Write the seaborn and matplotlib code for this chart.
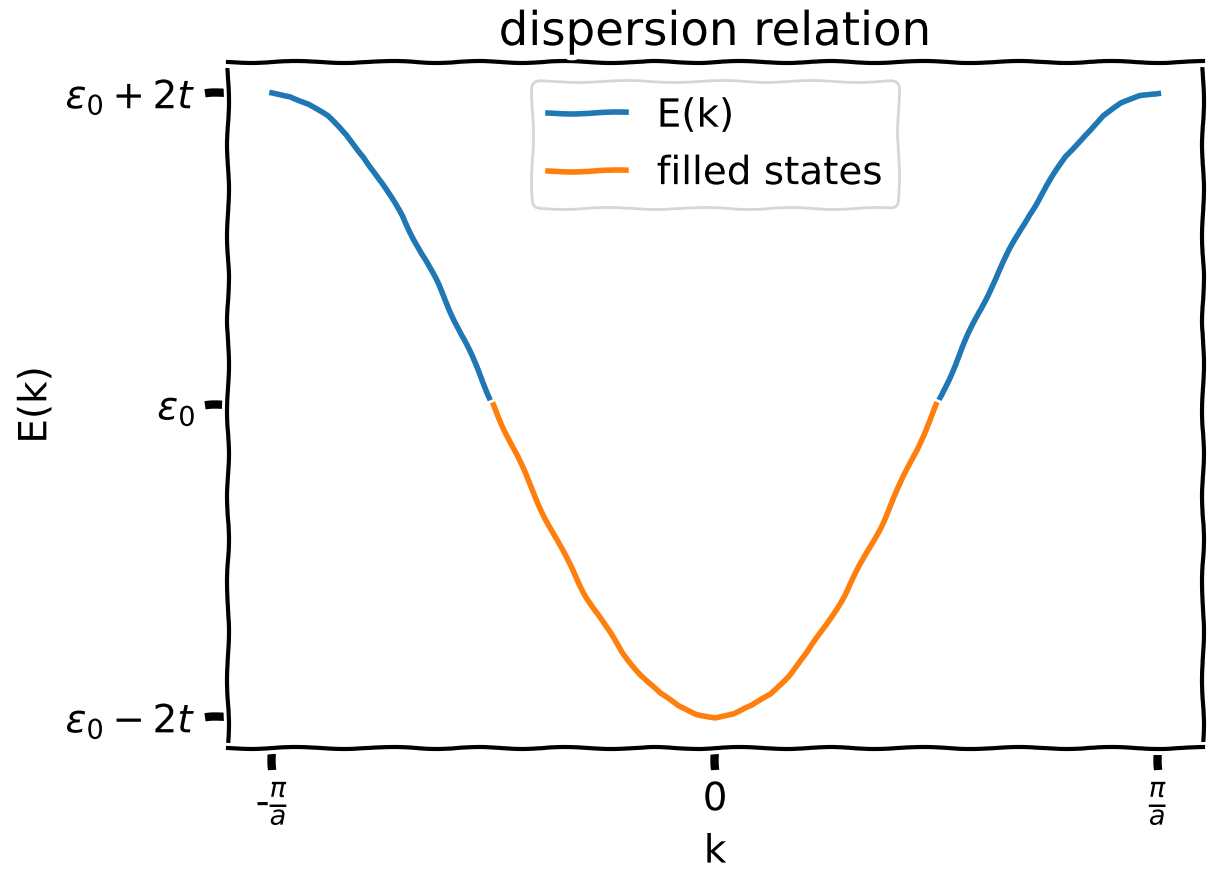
import matplotlib
matplotlib.use("Agg")
import matplotlib.pyplot as plt
import seaborn as sns
import pandas as pd

# wave vector in units of pi/a, energy in units of t relative to eps_0
K = [-1.0, -0.9583, -0.9167, -0.875, -0.8333, -0.7917, -0.75, -0.7083,
     -0.6667, -0.625, -0.5833, -0.5417, -0.5, -0.4583, -0.4167, -0.375,
     -0.3333, -0.2917, -0.25, -0.2083, -0.1667, -0.125, -0.0833, -0.0417,
     0.0,
     0.0417, 0.0833, 0.125, 0.1667, 0.2083, 0.25, 0.2917, 0.3333,
     0.375, 0.4167, 0.4583, 0.5, 0.5417, 0.5833, 0.625, 0.6667,
     0.7083, 0.75, 0.7917, 0.8333, 0.875, 0.9167, 0.9583, 1.0]
E = [2.00, 1.98, 1.93, 1.85, 1.73, 1.59, 1.41, 1.22,
     1.00, 0.77, 0.52, 0.26, 0.00, -0.26, -0.52, -0.77,
     -1.00, -1.22, -1.41, -1.59, -1.73, -1.85, -1.93, -1.98,
     -2.00,
     -1.98, -1.93, -1.85, -1.73, -1.59, -1.41, -1.22, -1.00,
     -0.77, -0.52, -0.26, 0.00, 0.26, 0.52, 0.77, 1.00,
     1.22, 1.41, 1.59, 1.73, 1.85, 1.93, 1.98, 2.00]
K_FERMI = 0.5  # filled states between -k_F and k_F

X_TICKS = [-1, 0, 1]
X_TICK_LABELS = [r'-$\frac{\pi}{a}$', '0', r'$\frac{\pi}{a}$']
Y_TICKS = [-2, 0, 2]
Y_TICK_LABELS = [r'$\epsilon_0 - 2t$', r'$\epsilon_0$', r'$\epsilon_0 + 2t$']

df = pd.DataFrame({'k': K, 'E': E})
filled = df[df['k'].abs() <= K_FERMI]

plt.xkcd()
plt.rcParams['font.family'] = ['DejaVu Sans']

fig, ax = plt.subplots(figsize=(6.055, 4.345), dpi=200)
fig.subplots_adjust(left=0.188, right=0.993, top=0.929, bottom=0.139)

sns.lineplot(data=df, x='k', y='E', ax=ax, color='#1f77b4', label='E(k)')
sns.lineplot(data=filled, x='k', y='E', ax=ax, color='#ff7f0e', label='filled states')

ax.set_xticks(X_TICKS)
ax.set_xticklabels(X_TICK_LABELS)
ax.set_yticks(Y_TICKS)
ax.set_yticklabels(Y_TICK_LABELS)
ax.set_xlabel('k', labelpad=2)
ax.set_ylabel('E(k)')
ax.set_title('dispersion relation')
ax.legend(loc='upper center')

fig.savefig('out.png', dpi=200)
